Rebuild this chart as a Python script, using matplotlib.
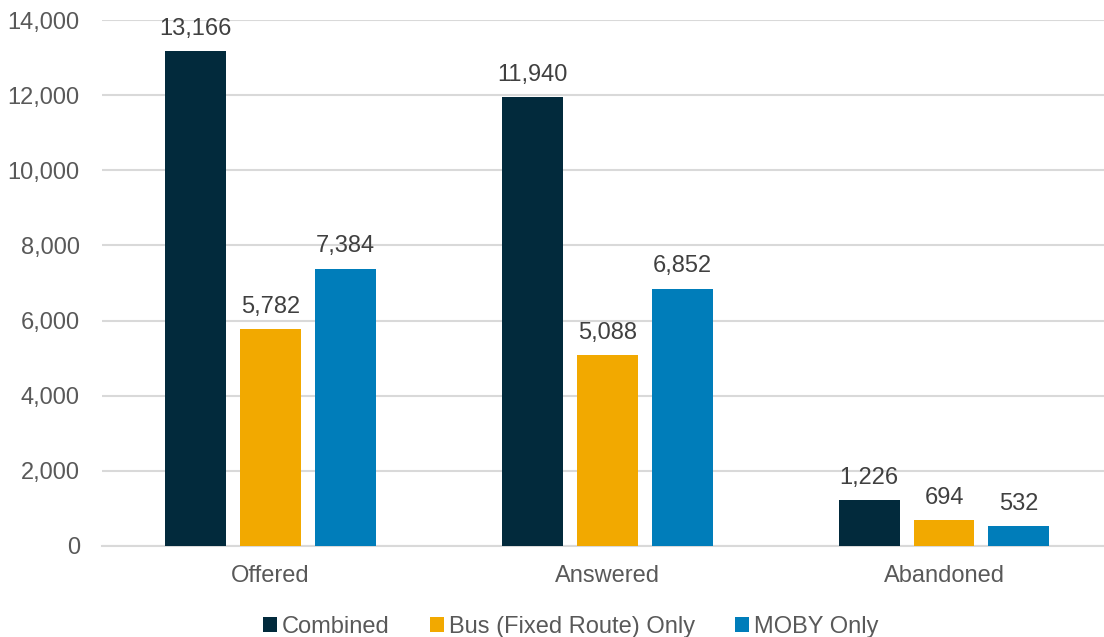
import matplotlib.pyplot as plt
import numpy as np

plt.rcParams['font.family'] = ['Liberation Sans', 'DejaVu Sans']

categories = ['Offered', 'Answered', 'Abandoned']
series_names = ['Combined', 'Bus (Fixed Route) Only', 'MOBY Only']
combined = [13166, 11940, 1226]
bus_only = [5782, 5088, 694]
moby_only = [7384, 6852, 532]
colors = ['#022a3c', '#f2a900', '#007dba']

fig = plt.figure(figsize=(11.04, 6.37), dpi=100)
ax = fig.add_axes([102 / 1104, 91 / 637, 1002 / 1104, 526 / 637])

x = np.arange(len(categories))
width = 0.181
step = 0.2225
for i, (name, vals) in enumerate(zip(series_names, [combined, bus_only, moby_only])):
    pos = x + (i - 1) * step
    bars = ax.bar(pos, vals, width, color=colors[i], label=name, zorder=3)
    for b, v in zip(bars, vals):
        ax.annotate(f'{v:,}', (b.get_x() + b.get_width() / 2, v),
                    xytext=(0, 8), textcoords='offset points',
                    ha='center', va='bottom', fontsize=17, color='#404040')

ax.set_xlim(-0.5, 2.475)
ax.set_ylim(0, 14000)
ax.set_yticks(range(0, 14001, 2000))
ax.set_yticklabels([f'{t:,}' for t in range(0, 14001, 2000)])
ax.set_xticks(x)
ax.set_xticklabels(categories)
ax.tick_params(axis='both', length=0, labelsize=17, labelcolor='#595959')
ax.tick_params(axis='x', pad=14)
ax.tick_params(axis='y', pad=16)
ax.grid(axis='y', color='#d9d9d9', linewidth=1.5, zorder=0)
for s in ['top', 'right', 'left']:
    ax.spines[s].set_visible(False)
ax.spines['bottom'].set_color('#d9d9d9')
ax.spines['bottom'].set_linewidth(1.5)

fig.legend(loc='lower center', bbox_to_anchor=(0.517, -0.035), ncol=3, frameon=False,
           fontsize=17, labelcolor='#595959', handlelength=0.6, handleheight=0.6,
           handletextpad=0.2, columnspacing=1.7)

fig.savefig('out.png', dpi=100)
